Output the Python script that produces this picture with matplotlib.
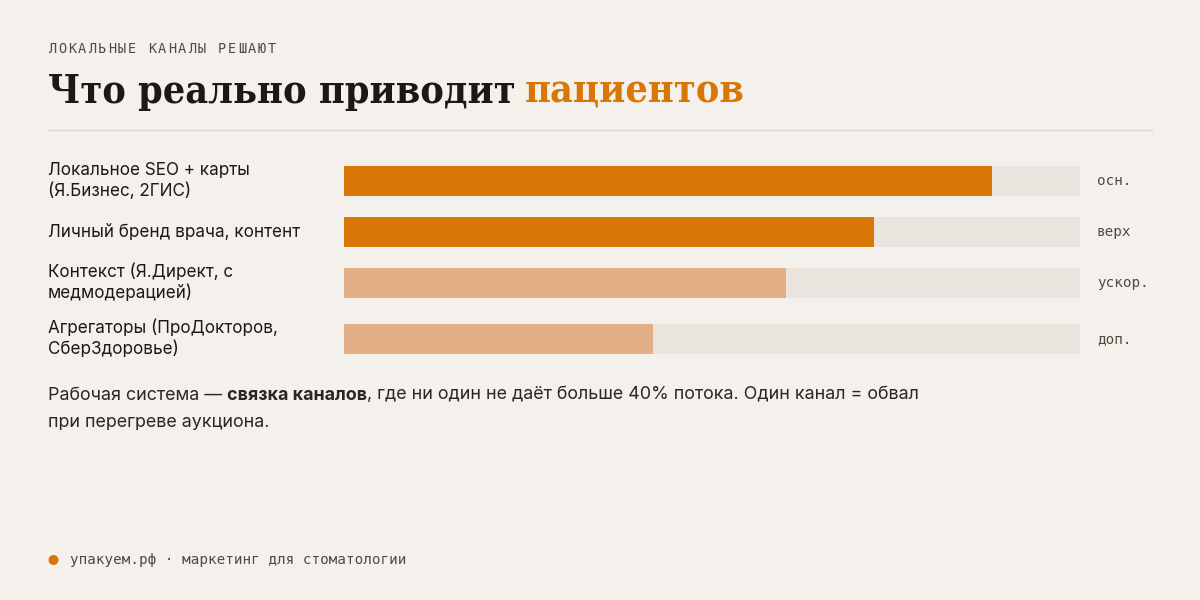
import matplotlib.pyplot as plt
from matplotlib.patches import Circle

# data
channels = ["Локальное SEO + карты\n(Я.Бизнес, 2ГИС)",
            "Личный бренд врача, контент",
            "Контекст (Я.Директ, с\nмедмодерацией)",
            "Агрегаторы (ПроДокторов,\nСберЗдоровье)"]
shares = [0.88, 0.72, 0.60, 0.42]
roles = ["осн.", "верх", "ускор.", "доп."]
primary = [True, True, False, False]

BG = "#F4F0EB"
ORANGE = "#D97706"
LIGHT = "#E2AF87"
TRACK = "#E9E4DD"
INK = "#1C1914"
MUTED = "#4F4B40"
SANS = "Inter"
MONO = "DejaVu Sans Mono"
SERIF = "DejaVu Serif"

W, H = 1200, 600
fig = plt.figure(figsize=(12, 6), dpi=100, facecolor=BG)
ax = fig.add_axes([0, 0, 1, 1])
ax.set_xlim(0, W)
ax.set_ylim(H, 0)
ax.axis("off")
inv = ax.transData.inverted()

# kicker, letter spaced
kicker = "ЛОКАЛЬНЫЕ КАНАЛЫ РЕШАЮТ"
for i, ch in enumerate(kicker):
    ax.text(48 + i * 10.0, 49, ch, fontsize=9.8, family=MONO, color=MUTED,
            va="center", ha="left")

# title
tkw = dict(fontsize=28.3, family=SERIF, weight="bold", stretch="condensed",
           va="baseline", ha="left")
t1 = ax.text(48, 103, "Что реально приводит", color=INK, **tkw)
fig.canvas.draw()
bb = t1.get_window_extent()
x_end = inv.transform((bb.x1, bb.y0))[0]
ax.text(x_end + 9, 103, "пациентов", color=ORANGE, **tkw)

ax.plot([48, 1152], [130, 130], color="#DDD5C7", lw=1)

# bars
rows = [181, 232, 283, 339]
top, bottom = 150, 370
bx = fig.add_axes([344 / W, 1 - bottom / H, 736 / W, (bottom - top) / H])
bx.set_xlim(0, 1)
bx.set_ylim(bottom, top)
bx.axis("off")
bx.barh(rows, [1.0] * len(rows), height=30, color=TRACK, lw=0)
bx.barh(rows, shares, height=30,
        color=[ORANGE if p else LIGHT for p in primary], lw=0)

for y, lab, role in zip(rows, channels, roles):
    ax.text(48, y, lab, fontsize=12.3, family=SANS, color=INK, va="center",
            ha="left", linespacing=1.25)
    ax.text(1097, y, role, fontsize=10.3, family=MONO, color=MUTED,
            va="center", ha="left")

# note with bold fragment
parts = [("Рабочая система — ", "normal"), ("связка каналов", "bold"),
         (", где ни один не даёт больше 40% потока. Один канал = обвал", "normal")]
x = 48
for s, w in parts:
    t = ax.text(x, 395, s, fontsize=12.9, family=SANS, weight=w, color="#2A2620",
                va="center", ha="left")
    fig.canvas.draw()
    b = t.get_window_extent()
    x = inv.transform((b.x1, b.y0))[0]
ax.text(48, 423, "при перегреве аукциона.", fontsize=12.9, family=SANS,
        color="#2A2620", va="center", ha="left")

# footer
ax.add_patch(Circle((53.5, 560), 5, color=ORANGE, lw=0))
ax.text(70, 560, "упакуем.рф · маркетинг для стоматологии", fontsize=10.3,
        family=MONO, color=MUTED, va="center", ha="left")

fig.savefig("out.png", dpi=100, facecolor=BG)
